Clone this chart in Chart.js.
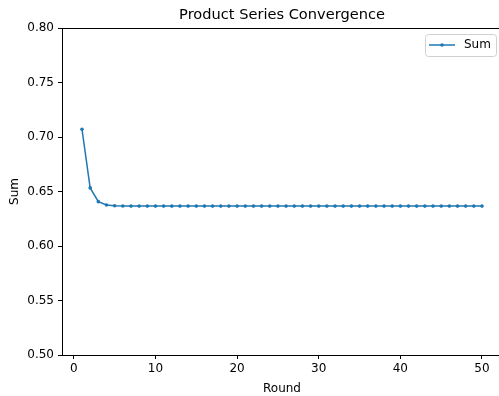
<!DOCTYPE html>
<html>
<head>
<meta charset="utf-8">
<script src="https://cdn.jsdelivr.net/npm/chart.js@4"></script>
<style>
  html, body { margin: 0; padding: 0; background: #fff; overflow: hidden; }
  #wrap { width: 499px; height: 396px; overflow: hidden; position: relative; }
  canvas { display: block; }
</style>
</head>
<body>
<div id="wrap"><canvas id="c" width="510" height="396"></canvas></div>
<script>
// Running product per round
const rounds = Array.from({length: 50}, (_, i) => i + 1);
const sums = [
  0.7071, 0.6533, 0.6407, 0.6376, 0.6369, 0.6367, 0.6366, 0.6366, 0.6366, 0.6366,
  0.6366, 0.6366, 0.6366, 0.6366, 0.6366, 0.6366, 0.6366, 0.6366, 0.6366, 0.6366,
  0.6366, 0.6366, 0.6366, 0.6366, 0.6366, 0.6366, 0.6366, 0.6366, 0.6366, 0.6366,
  0.6366, 0.6366, 0.6366, 0.6366, 0.6366, 0.6366, 0.6366, 0.6366, 0.6366, 0.6366,
  0.6366, 0.6366, 0.6366, 0.6366, 0.6366, 0.6366, 0.6366, 0.6366, 0.6366, 0.6366
];
const xTicks = [0, 10, 20, 30, 40, 50];
const yTicks = [0.50, 0.55, 0.60, 0.65, 0.70, 0.75, 0.80];

const titleText = 'Product Series Convergence';
const seriesName = 'Sum';
const lineColor = '#1f77b4';
const FONT = '"DejaVu Sans", sans-serif';

// Title, top spine and boxed legend
const decor = {
  id: 'decor',
  afterDraw(chart) {
    const {ctx, chartArea: a} = chart;
    ctx.save();
    // top spine
    ctx.strokeStyle = '#000';
    ctx.lineWidth = 1;
    ctx.beginPath();
    ctx.moveTo(a.left, a.top + 0.5);
    ctx.lineTo(a.right, a.top + 0.5);
    ctx.stroke();
    // title
    ctx.fillStyle = '#000';
    ctx.font = '14.6px ' + FONT;
    ctx.textAlign = 'center';
    ctx.textBaseline = 'middle';
    ctx.fillText(titleText, (a.left + a.right) / 2, 15);
    // legend
    const lx = 425, ly = 34, lw = 71, lh = 22;
    ctx.fillStyle = 'rgba(255,255,255,0.8)';
    ctx.strokeStyle = '#d0d0d0';
    ctx.beginPath();
    ctx.roundRect(lx + 0.5, ly + 0.5, lw, lh, 3);
    ctx.fill();
    ctx.stroke();
    ctx.strokeStyle = lineColor;
    ctx.lineWidth = 1.5;
    ctx.beginPath();
    ctx.moveTo(429, ly + 11);
    ctx.lineTo(455, ly + 11);
    ctx.stroke();
    ctx.fillStyle = lineColor;
    ctx.beginPath();
    ctx.arc(442, ly + 11, 1.8, 0, Math.PI * 2);
    ctx.fill();
    ctx.fillStyle = '#000';
    ctx.font = '12px ' + FONT;
    ctx.textAlign = 'left';
    ctx.fillText(seriesName, 464, ly + 11);
    ctx.restore();
  }
};

new Chart(document.getElementById('c'), {
  type: 'line',
  data: {
    datasets: [{
      label: seriesName,
      data: rounds.map((r, i) => ({x: r, y: sums[i]})),
      borderColor: lineColor,
      backgroundColor: lineColor,
      borderWidth: 1.5,
      pointRadius: 1.8,
      pointHoverRadius: 1.8,
      pointBorderWidth: 0,
      tension: 0,
      fill: false
    }]
  },
  options: {
    responsive: false,
    devicePixelRatio: 1,
    animation: false,
    events: [],
    layout: { padding: { top: 28, right: 8, left: 0, bottom: 0 } },
    plugins: {
      legend: { display: false },
      title: { display: false },
      tooltip: { enabled: false }
    },
    scales: {
      x: {
        type: 'linear',
        min: -1.45,
        max: 52.45,
        afterBuildTicks(s) { s.ticks = xTicks.map(v => ({value: v})); },
        afterFit(s) { s.height = 41; },
        ticks: { color: '#000', font: { family: FONT, size: 12 }, padding: 3, maxRotation: 0 },
        grid: { display: true, drawOnChartArea: false, drawTicks: true, tickLength: 4, color: '#000' },
        border: { display: true, color: '#000', width: 1 },
        title: { display: true, text: 'Round', color: '#000', font: { family: FONT, size: 12 }, padding: { top: 0, bottom: 0 } }
      },
      y: {
        type: 'linear',
        min: 0.50,
        max: 0.80,
        afterBuildTicks(s) { s.ticks = yTicks.map(v => ({value: v})); },
        afterFit(s) { s.width = 62; },
        ticks: { color: '#000', font: { family: FONT, size: 12 }, padding: 4, callback: v => v.toFixed(2) },
        grid: { display: true, drawOnChartArea: false, drawTicks: true, tickLength: 4, color: '#000' },
        border: { display: true, color: '#000', width: 1 },
        title: { display: true, text: 'Sum', color: '#000', font: { family: FONT, size: 12 }, padding: { top: 8, bottom: 0 } }
      }
    }
  },
  plugins: [decor]
});
</script>
</body>
</html>
